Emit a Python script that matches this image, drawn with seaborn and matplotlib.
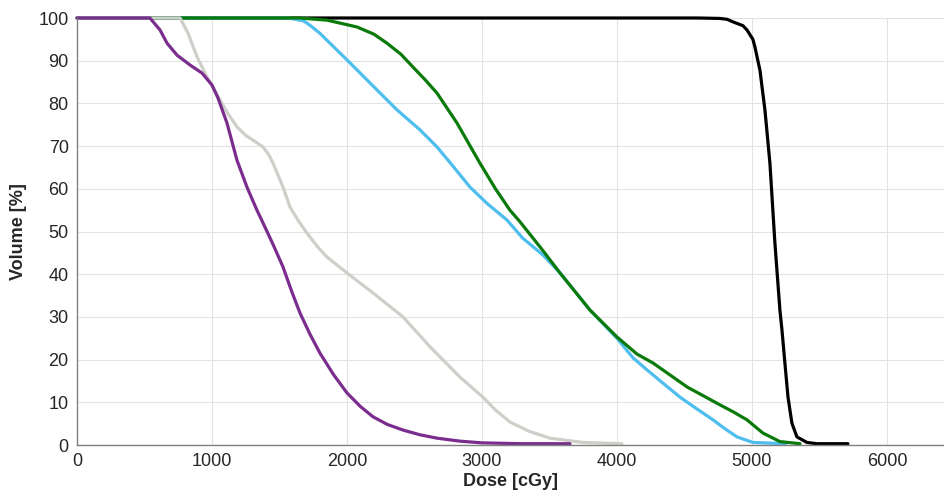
import matplotlib
matplotlib.use("Agg")
import matplotlib.pyplot as plt
import numpy as np
import pandas as pd
import seaborn as sns

# Dose-volume curves (dose in cGy, volume in %)
black_dose = [0, 4600, 4760, 4815, 4859, 4933, 4963, 5007, 5022, 5059, 5096, 5133, 5170, 5207, 5222,
              5244, 5267, 5296, 5333, 5407, 5481, 5711]
black_vol = [100, 100, 99.9, 99.7, 99.1, 98.2, 97.2, 95, 93.2, 87.8, 78.5, 66, 47.3, 31.6, 27,
             19.2, 11.2, 5.1, 1.9, 0.6, 0.3, 0.3]

blue_dose = [0, 1560, 1620, 1680, 1726, 1800, 1874, 2022, 2170, 2370, 2541, 2667, 2780, 2911, 3040,
             3185, 3300, 3452, 3578, 3800, 4000, 4119, 4222, 4340, 4467, 4590, 4711, 4800, 4889,
             5007, 5250]
blue_vol = [100, 100, 99.7, 99.3, 98.3, 96.4, 94.1, 89.5, 84.8, 78.5, 73.8, 69.8, 65.5, 60.4, 56.5,
            52.7, 48.5, 44.5, 40.3, 31.6, 25, 20.4, 17.6, 14.5, 11.2, 8.5, 5.9, 3.8, 1.9,
            0.6, 0.3]

green_dose = [0, 1650, 1852, 2074, 2200, 2296, 2400, 2489, 2580, 2667, 2815, 2985, 3100, 3207, 3281,
              3452, 3578, 3800, 4000, 4148, 4267, 4519, 4763, 4859, 4963, 5081, 5207, 5356]
green_vol = [100, 100, 99.5, 97.9, 96.2, 94.1, 91.5, 88.5, 85.5, 82.4, 75.4, 66, 60, 55, 52.3,
             45.5, 40.3, 31.6, 25.3, 21.3, 19.2, 13.6, 9.4, 7.8, 5.9, 2.8, 0.8, 0.3]

gray_dose = [0, 763, 822, 889, 963, 1059, 1120, 1185, 1250, 1304, 1378, 1420, 1452, 1526, 1578, 1640,
             1704, 1780, 1852, 2000, 2193, 2415, 2615, 2837, 3007, 3100, 3207, 3350, 3504, 3748, 4037]
gray_vol = [100, 100, 96.5, 90.9, 86.2, 80.8, 77.5, 74.5, 72.5, 71.4, 69.8, 68, 66, 60.4, 55.7, 52.5,
            49.6, 46.5, 44, 40.3, 35.6, 30, 23, 15.9, 11.2, 8.2, 5.4, 3.2, 1.6, 0.6, 0.3]

purple_dose = [0, 540, 615, 667, 741, 837, 926, 1000, 1044, 1111, 1185, 1259, 1333, 1378, 1452, 1526,
               1590, 1652, 1725, 1800, 1900, 2000, 2100, 2193, 2300, 2415, 2540, 2667, 2837, 3000,
               3300, 3652]
purple_vol = [100, 100, 97.2, 94.1, 91.3, 89, 87.1, 84.3, 81.3, 75.4, 66.7, 60.4, 55, 52, 47, 41.7,
              36, 30.9, 26, 21.5, 16.5, 12.2, 9, 6.6, 4.8, 3.5, 2.4, 1.6, 0.9, 0.5,
              0.3, 0.3]

curves = [
    (black_dose, black_vol, "#000000"),
    (blue_dose, blue_vol, "#4dbeee"),
    (green_dose, green_vol, "#0a7a0a"),
    (gray_dose, gray_vol, "#cfcfca"),
    (purple_dose, purple_vol, "#7b2d8e"),
]

sns.set_style("whitegrid")
plt.rcParams["font.family"] = ["Liberation Sans", "DejaVu Sans"]

fig = plt.figure(figsize=(9.45, 5.01), dpi=100)
ax = fig.add_axes([77 / 945, 56 / 501, 868 / 945, 427 / 501])

for dose, vol, col in curves:
    df = pd.DataFrame({"dose": dose, "vol": vol})
    sns.lineplot(data=df, x="dose", y="vol", sort=False, color=col, lw=2.3,
                 solid_joinstyle="round", clip_on=False, ax=ax)

ax.set_xlim(0, 6430)
ax.set_ylim(0, 100)
ax.set_xticks(np.arange(0, 6001, 1000))
ax.set_yticks(np.arange(0, 101, 10))
ax.grid(True, color="#e3e3e3", lw=0.8)
ax.set_axisbelow(True)

for s in ["top", "right"]:
    ax.spines[s].set_visible(False)
for s in ["left", "bottom"]:
    ax.spines[s].set_color("#808080")
    ax.spines[s].set_linewidth(1.0)

ax.tick_params(axis="both", direction="in", length=5, width=0.8, color="#808080",
               labelsize=13, labelcolor="#262626", pad=6)
ax.set_xlabel("Dose [cGy]", fontsize=13, fontweight="bold", color="#262626", labelpad=2)
ax.set_ylabel("Volume [%]", fontsize=13, fontweight="bold", color="#262626", labelpad=8)

plt.savefig("out.png", dpi=100)
